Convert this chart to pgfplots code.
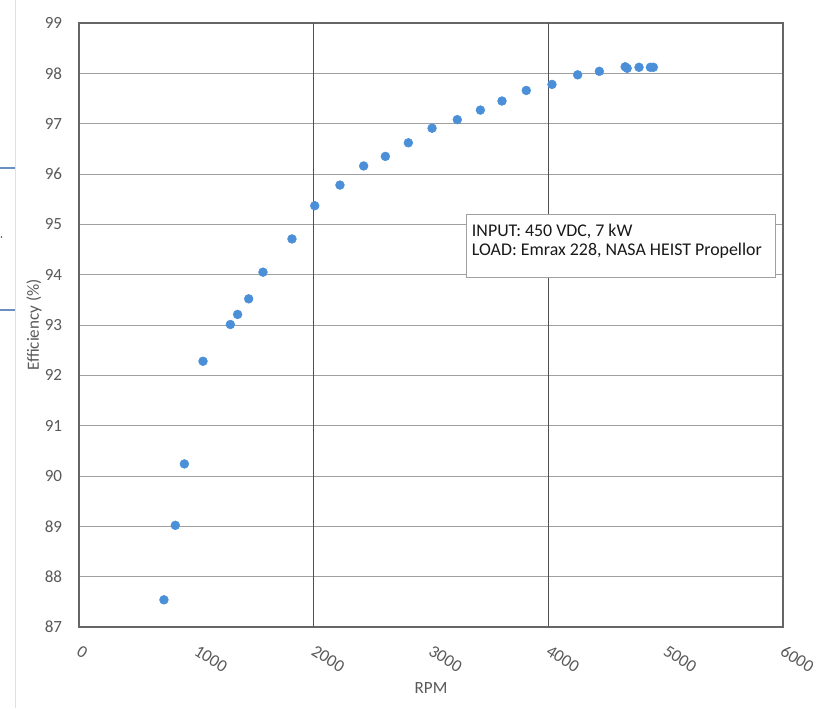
\documentclass[border=0pt]{standalone}
\usepackage{pgfplots}
\pgfplotsset{compat=1.18}
\usepackage{fontspec}
\setmainfont{Carlito}
\definecolor{dotblue}{HTML}{4A8FD8}
\definecolor{axgray}{HTML}{666666}
\definecolor{txtgray}{HTML}{595959}
\definecolor{hgrid}{HTML}{A0A0A0}
\definecolor{vgrid}{HTML}{505050}
\definecolor{boxgray}{HTML}{A0A0A0}
\definecolor{sideblue}{HTML}{6A8FC0}
\pgfplotstableread{
x y
724 87.54
821 89.02
898 90.24
1057 92.28
1290 93.01
1352 93.21
1446 93.52
1568 94.05
1815 94.71
2009 95.37
2224 95.78
2426 96.16
2611 96.35
2807 96.62
3009 96.91
3224 97.08
3421 97.27
3605 97.45
3812 97.66
4031 97.78
4250 97.97
4435 98.04
4655 98.13
4672 98.10
4773 98.12
4870 98.12
4895 98.12
}\effdata
\begin{document}
\begin{tikzpicture}
\useasboundingbox (0pt,0pt) rectangle (612.75pt,531pt);
\begin{scope}[x=0.75pt,y=0.75pt]
\draw[color=black!12, line width=0.75pt] (15.7,0) -- (15.7,708);
\draw[color=sideblue, line width=1.5pt] (0,540.3) -- (15,540.3);
\draw[color=sideblue, line width=1.5pt] (0,398) -- (15,398);
\fill[black!70] (1.5,471) circle (0.8);
\end{scope}
\begin{axis}[
  at={(59.25pt,60.75pt)}, anchor=south west,
  scale only axis, width=528pt, height=453pt,
  xmin=0, xmax=6000, ymin=87, ymax=99,
  xtick={0,1000,...,6000}, ytick={87,88,...,99},
  major tick length=0pt,
  ymajorgrids,
  major grid style={hgrid, line width=0.7pt},
  extra x ticks={2000,4000}, extra x tick labels={},
  extra x tick style={xmajorgrids=true, major grid style={vgrid, line width=0.7pt}},
  axis line style={axgray, line width=1.3pt},
  scaled x ticks=false,
  /pgf/number format/assume math mode=true,
  /pgf/number format/1000 sep={},
  tick label style={font=\fontsize{12.8}{14}\selectfont, text=txtgray},
  yticklabel style={anchor=east, inner sep=0pt, xshift=-12.5pt},
  xticklabel style={rotate=-32, anchor=north west, inner sep=0pt, yshift=-10pt, xshift=8.5pt, font=\fontsize{13}{14}\selectfont},
  xlabel={RPM}, ylabel={Efficiency (\%)},
  label style={font=\fontsize{12.8}{14}\selectfont, text=txtgray},
  xlabel style={at={(axis description cs:0.5,-0.101)}, anchor=center},
  ylabel style={at={(axis description cs:-0.0639,0.5)}, anchor=center},
  clip=false,
]
\addplot[only marks, mark=*, mark size=3.3pt, mark options={fill=dotblue, draw=dotblue}] table[x=x,y=y] {\effdata};
\draw[boxgray, line width=0.6pt, fill=white] (axis cs:3305,95.19) rectangle (axis cs:5933,93.95);
\node[anchor=base west, inner sep=0pt, font=\fontsize{13.4}{14}\selectfont, text=black!90] at (axis cs:3347,94.755) {INPUT: 450 VDC, 7 kW};
\node[anchor=base west, inner sep=0pt, font=\fontsize{13.4}{14}\selectfont, text=black!90] at (axis cs:3347,94.39) {LOAD: Emrax 228, NASA HEIST Propellor};
\end{axis}
\end{tikzpicture}
\end{document}
